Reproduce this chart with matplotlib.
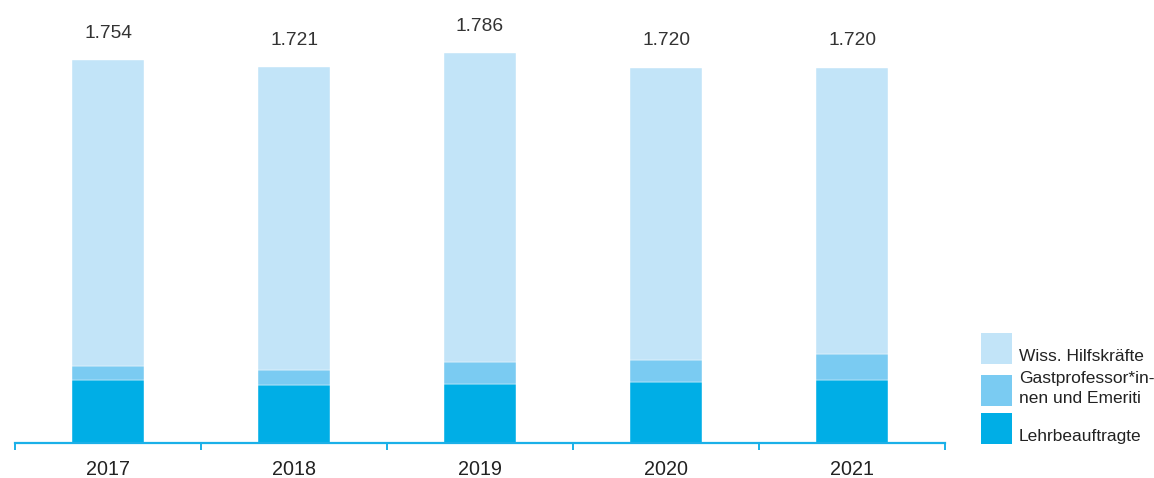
import matplotlib
matplotlib.use("Agg")
import matplotlib.pyplot as plt
from matplotlib.patches import Rectangle

plt.rcParams['font.family'] = ['Liberation Sans', 'DejaVu Sans']

# Personnel counts per year (stacked from bottom to top)
years = ["2017", "2018", "2019", "2020", "2021"]
lehrbeauftragte = [291, 268, 273, 282, 291]
gastprofessoren = [64, 66, 98, 98, 119]
wiss_hilfskraefte = [1399, 1387, 1415, 1340, 1310]
totals = [1754, 1721, 1786, 1720, 1720]
total_labels = ["1.754", "1.721", "1.786", "1.720", "1.720"]

series_names = ["Wiss. Hilfskräfte", "Gastprofessor*in-\nnen und Emeriti", "Lehrbeauftragte"]
c_lehr = "#00aee6"
c_gast = "#7acbf2"
c_wiss = "#c2e4f8"
axis_color = "#1ab0e8"
text_color = "#222222"

W, H = 1154, 478
fig = plt.figure(figsize=(W / 100, H / 100), dpi=100)
ax = fig.add_axes([15 / W, (H - 443.3) / H, 930 / W, 443.3 / H])

x = list(range(len(years)))
bw = 0.387
edge = dict(edgecolor="white", linewidth=0.3)
ax.bar(x, lehrbeauftragte, width=bw, color=c_lehr, **edge)
bottom2 = lehrbeauftragte
ax.bar(x, gastprofessoren, width=bw, bottom=bottom2, color=c_gast, **edge)
bottom3 = [a + b for a, b in zip(lehrbeauftragte, gastprofessoren)]
ax.bar(x, wiss_hilfskraefte, width=bw, bottom=bottom3, color=c_wiss, **edge)

ax.set_xlim(-0.5, len(years) - 0.5)
ax.set_ylim(0, 2030)

# Totals above bars
for xi, tot, lab in zip(x, totals, total_labels):
    ax.annotate(lab, xy=(xi, tot), xytext=(0, 16), textcoords="offset points",
                ha="center", va="baseline", fontsize=13.8, color="#333333")

# Year labels under the axis
for xi, yr in zip(x, years):
    ax.annotate(yr, xy=(xi, 0), xytext=(0, -22.8), textcoords="offset points",
                ha="center", va="baseline", fontsize=14.2, color=text_color,
                annotation_clip=False)

for s in ["top", "right", "left"]:
    ax.spines[s].set_visible(False)
ax.spines["bottom"].set_color(axis_color)
ax.spines["bottom"].set_linewidth(1.6)
ax.set_yticks([])
ax.set_xticks([i - 0.5 for i in range(len(years) + 1)])
ax.set_xticklabels([])
ax.tick_params(axis="x", direction="out", length=4.7, width=1.4, color=axis_color)

# Legend drawn at the right side
colors = [c_wiss, c_gast, c_lehr]
patch_tops = [333, 375, 413]
text_baselines = [360.7, 402.7, 440.7]
for col, top, name, base in zip(colors, patch_tops, series_names, text_baselines):
    fig.patches.append(Rectangle((981 / W, (H - top - 31) / H), 31 / W, 31 / H,
                                 transform=fig.transFigure, facecolor=col,
                                 edgecolor="none"))
    fig.text(1019 / W, (H - base) / H, name, ha="left", va="baseline",
             fontsize=12.5, color=text_color, linespacing=1.42,
             multialignment="left")

fig.savefig("out.png", dpi=100)
